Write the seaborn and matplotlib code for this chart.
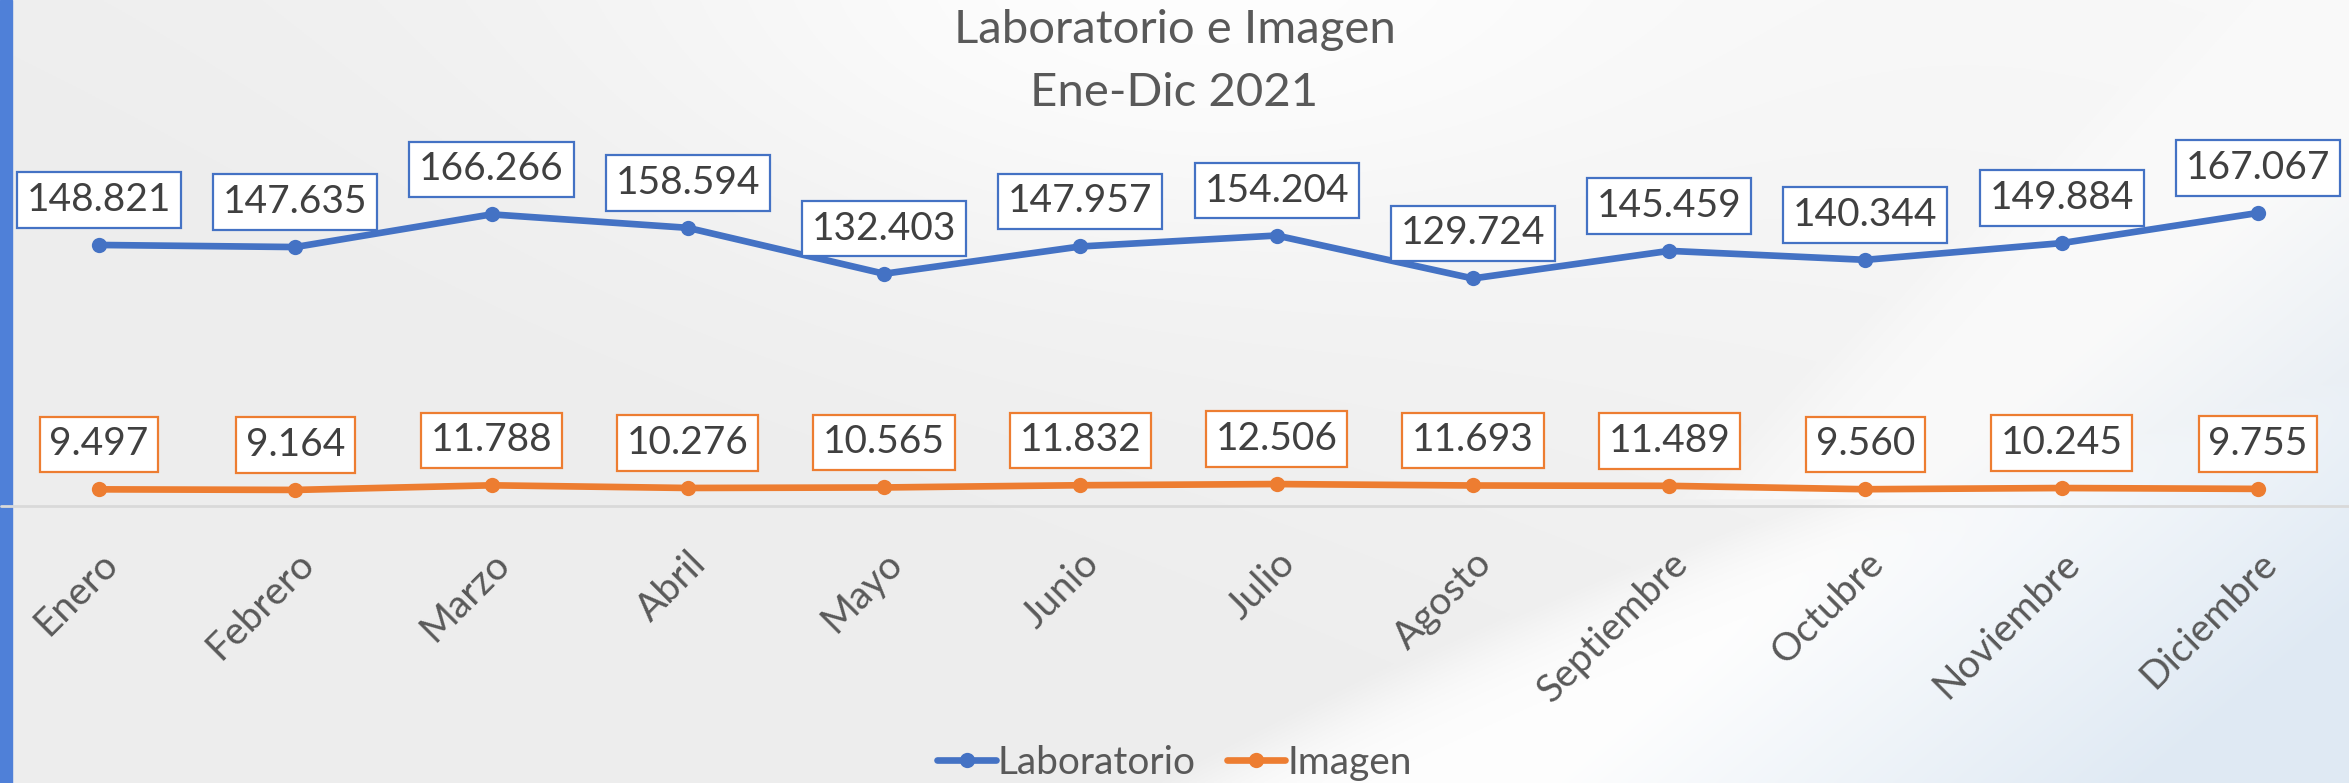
import numpy as np
import matplotlib
matplotlib.use("Agg")
import matplotlib.pyplot as plt
from matplotlib.lines import Line2D
import seaborn as sns

# datos
meses = ['Enero', 'Febrero', 'Marzo', 'Abril', 'Mayo', 'Junio', 'Julio',
         'Agosto', 'Septiembre', 'Octubre', 'Noviembre', 'Diciembre']
laboratorio = [148.821, 147.635, 166.266, 158.594, 132.403, 147.957,
               154.204, 129.724, 145.459, 140.344, 149.884, 167.067]
imagen = [9.497, 9.164, 11.788, 10.276, 10.565, 11.832,
          12.506, 11.693, 11.489, 9.560, 10.245, 9.755]

azul = '#4472C4'
naranja = '#ED7D31'
gris_txt = '#595959'

sns.set_theme(style='white')
plt.rcParams['font.family'] = ['Lato', 'DejaVu Sans']

W, H = 2349, 783
fig = plt.figure(figsize=(W / 100, H / 100), dpi=100)

# fondo: gris claro con una franja blanca curva a la derecha
bg = fig.add_axes([0, 0, 1, 1], zorder=-10)
Y, X = np.mgrid[0:H:2, 0:W:2].astype(float)
base = 0.905 + 0.04 * X / W + 0.03 * (1 - Y / H)
base = base + 0.04 * np.exp(-((X - 1150) / 500) ** 2 - (Y / 250) ** 2)
curva = 730 - (X - 1300) * 0.50 + 0.00012 * (X - 1300) ** 2
blanco = 1 / (1 + np.exp(-(Y - curva) / 25))
base = np.maximum(base, 0.905 + 0.09 * blanco)
diag = 1 / (1 + np.exp(-((X - 1900) + (Y - 0) * 0.9 - 250) / 40))
base = np.maximum(base, 0.93 + 0.05 * diag * (Y < 500))
esq = np.clip(((X - 1950) / 400) + ((Y - 450) / 330), 0, 1.5) / 1.5
img = np.dstack([base - 0.12 * esq, base - 0.08 * esq, base - 0.04 * esq])
img = np.clip(img, 0, 1)
bg.imshow(img, extent=[0, 1, 0, 1], aspect='auto', origin='upper')
bg.axvspan(0, 12 / W, color='#4f80d8')
bg.set_xlim(0, 1)
bg.set_ylim(0, 1)
bg.axis('off')

# ejes del grafico: x=0 -> 99 px, x=11 -> 2258 px, y=0 -> 506 px
unit = (2258 - 99) / 11
left = (99 - 0.5 * unit) / W
width = 12 * unit / W
y0 = (H - 506) / H
ymax = 180
height = ymax * 1.754 / H
ax = fig.add_axes([left, y0, width, height])
ax.patch.set_alpha(0)

x = np.arange(len(meses))
sns.lineplot(x=x, y=laboratorio, ax=ax, color=azul, linewidth=4.8,
             marker='o', markersize=11, markeredgewidth=0)
sns.lineplot(x=x, y=imagen, ax=ax, color=naranja, linewidth=4.8,
             marker='o', markersize=11, markeredgewidth=0)

for serie, col in [(laboratorio, azul), (imagen, naranja)]:
    for i, v in enumerate(serie):
        ax.annotate(f'{v:.3f}', (i, v), xytext=(0, 32.4), textcoords='offset points',
                    ha='center', va='center', fontsize=28, color='#404040',
                    bbox=dict(boxstyle='square,pad=0.25', fc='white', ec=col, lw=1.6))

ax.set_xlim(-0.5, 11.5)
ax.set_ylim(0, ymax)
ax.axhline(0, color='#d9d9d9', lw=2, clip_on=False, zorder=0)
for s in ax.spines.values():
    s.set_visible(False)
ax.set_yticks([])
ax.set_xticks(x)
ax.set_xticklabels(meses, rotation=45, ha='right', rotation_mode='anchor',
                   fontsize=28, color=gris_txt)
ax.tick_params(axis='x', length=0, pad=28)

fig.text(0.5, 1 - 30 / H, 'Laboratorio e Imagen', ha='center', va='center',
         fontsize=34, color=gris_txt)
fig.text(0.5, 1 - 93 / H, 'Ene-Dic 2021', ha='center', va='center',
         fontsize=34, color=gris_txt)

handles = [Line2D([], [], color=azul, lw=4.8, marker='o', markersize=11, markeredgewidth=0),
           Line2D([], [], color=naranja, lw=4.8, marker='o', markersize=11, markeredgewidth=0)]
fig.legend(handles, ['Laboratorio', 'Imagen'], loc='center', bbox_to_anchor=(0.5, 20 / H),
           ncol=2, frameon=False, fontsize=28, handlelength=1.5, handletextpad=0.05,
           columnspacing=0.8, labelcolor=gris_txt, borderpad=0)

fig.savefig('out.png', dpi=100)
